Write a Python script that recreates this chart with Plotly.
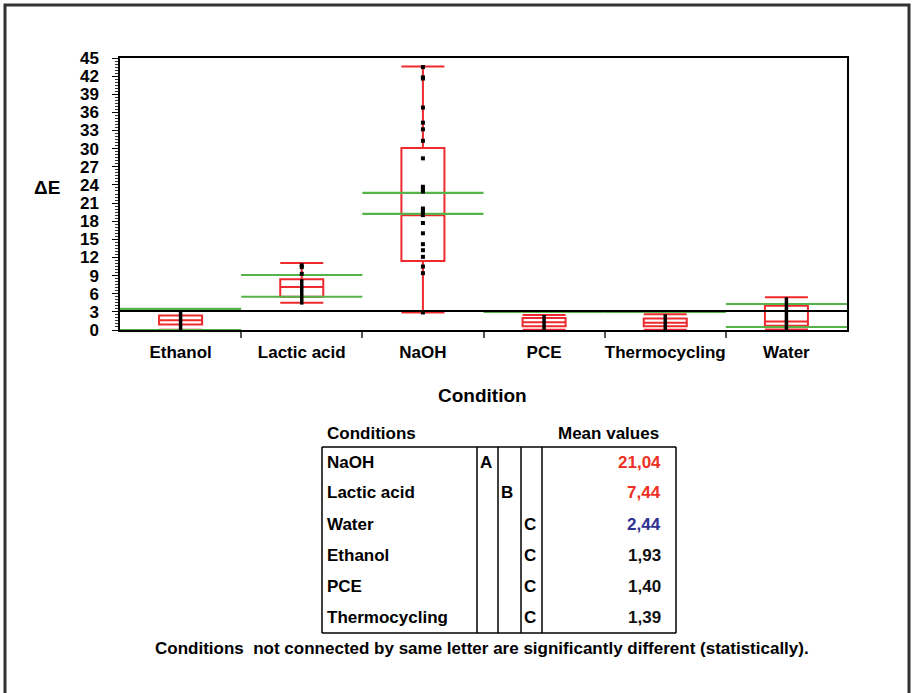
import plotly.graph_objects as go

# ---------------- data ----------------
categories = ["Ethanol", "Lactic acid", "NaOH", "PCE", "Thermocycling", "Water"]
box_min = [0.05, 4.5, 2.9, 0.05, 0.05, 0.1]
box_q1 = [0.9, 5.5, 11.4, 0.6, 0.6, 0.7]
box_median = [1.6, 7.1, 19.0, 1.3, 1.2, 1.4]
box_q3 = [2.4, 8.4, 30.1, 2.0, 1.9, 4.0]
box_max = [3.2, 11.1, 43.6, 2.5, 2.6, 5.4]
ci_low = [0.0, 5.5, 19.2, -0.5, -0.5, 0.5]
ci_high = [3.5, 9.1, 22.7, 3.0, 3.0, 4.3]
grand_line = 3.15
dense_low = [0.0, 4.2, None, 0.0, 0.0, 0.0]
dense_high = [3.3, 8.4, None, 2.5, 2.6, 5.4]
lactic_points = [9.3, 10.4, 10.7]
naoh_points = [43.5, 41.8, 41.6, 36.8, 34.3, 33.2, 31.3, 28.4, 23.7, 23.3, 22.9,
               20.1, 19.8, 19.4, 19.0, 17.7, 16.0, 14.2, 13.2, 12.1, 10.5, 9.4, 2.9]
y_ticks = list(range(0, 46, 3))

table_conditions = ["NaOH", "Lactic acid", "Water", "Ethanol", "PCE", "Thermocycling"]
table_letters = ["A", "B", "C", "C", "C", "C"]
table_means = ["21,04", "7,44", "2,44", "1,93", "1,40", "1,39"]
table_colors = ["#ee3124", "#ee3124", "#2e3192", "#111111", "#111111", "#111111"]

RED = "#ee2a2f"
GREEN = "#55b34a"
FONT = "Liberation Sans, Arial, sans-serif"

# ---------------- geometry helpers (page pixel -> paper) ----------------
FIG_W, FIG_H = 914, 693
L, R, T, B = 120, 847, 58, 330        # plot area in page pixels
W, H = R - L, B - T
def px(xp):
    return (xp - L) / W
def py(yp):
    return (B - yp) / H

centers = [i + 0.5 for i in range(len(categories))]

fig = go.Figure()

# green comparison lines (span each category)
gx, gy = [], []
for i in range(len(categories)):
    for v in (ci_low[i], ci_high[i]):
        gx += [i, i + 1, None]
        gy += [v, v, None]
fig.add_trace(go.Scatter(x=gx, y=gy, mode="lines", line=dict(color=GREEN, width=2.2),
                         hoverinfo="skip", showlegend=False))

# grand line
fig.add_trace(go.Scatter(x=[0, 6], y=[grand_line, grand_line], mode="lines",
                         line=dict(color="black", width=2), showlegend=False))

# boxes
fig.add_trace(go.Box(x=centers, q1=box_q1, median=box_median, q3=box_q3,
                     lowerfence=box_min, upperfence=box_max, width=0.355,
                     whiskerwidth=1, line=dict(color=RED, width=2),
                     fillcolor="rgba(0,0,0,0)", boxpoints=False, showlegend=False))

# dense points as vertical strokes
dx, dy = [], []
for i in range(len(categories)):
    if dense_low[i] is not None:
        dx += [centers[i], centers[i], None]
        dy += [dense_low[i], dense_high[i], None]
fig.add_trace(go.Scatter(x=dx, y=dy, mode="lines", line=dict(color="black", width=3.5),
                         showlegend=False, cliponaxis=False))
fig.add_trace(go.Scatter(x=[centers[1]] * len(lactic_points), y=lactic_points, mode="markers",
                         marker=dict(symbol="square", size=4, color="black"), showlegend=False))
fig.add_trace(go.Scatter(x=[centers[2]] * len(naoh_points), y=naoh_points, mode="markers",
                         marker=dict(symbol="square", size=4, color="black"), showlegend=False))

shapes = []
annotations = []

def ann(text, x, y, size=17, color="black", xanchor="center"):
    annotations.append(dict(text=text, xref="paper", yref="paper", x=px(x), y=py(y),
                            xanchor=xanchor, yanchor="middle", showarrow=False,
                            font=dict(size=size, color=color, family=FONT)))

# outer frame
shapes.append(dict(type="rect", xref="paper", yref="paper", x0=px(5), x1=px(909),
                   y0=py(705), y1=py(5), line=dict(color="#333333", width=3)))

# y title and x title
ann("<b>ΔE</b>", 47, 187, size=19)
ann("<b>Condition</b>", 482, 395, size=19)

# table
tl, tr, tt, tb = 322, 676, 447, 633
for xv in (tl, 477, 498, 521, 542, tr):
    shapes.append(dict(type="line", xref="paper", yref="paper", x0=px(xv), x1=px(xv),
                       y0=py(tt), y1=py(tb), line=dict(color="black", width=1.5)))
for yv in (tt, tb):
    shapes.append(dict(type="line", xref="paper", yref="paper", x0=px(tl), x1=px(tr),
                       y0=py(yv), y1=py(yv), line=dict(color="black", width=1.5)))

ann("<b>Conditions</b>", 325, 433, xanchor="left")
ann("<b>Mean values</b>", 661, 433, xanchor="right")
letter_x = {"A": 486, "B": 507, "C": 530}
for k, (c, lt, m, col) in enumerate(zip(table_conditions, table_letters, table_means, table_colors)):
    yc = 462 + k * 31
    ann("<b>" + c + "</b>", 325, yc, xanchor="left")
    ann("<b>" + lt + "</b>", letter_x[lt], yc)
    ann("<b>" + m + "</b>", 663, yc, color=col, xanchor="right")

ann("<b>Conditions  not connected by same letter are significantly different (statistically).</b>",
    482, 648)

fig.update_layout(
    width=FIG_W, height=FIG_H,
    margin=dict(l=L, r=FIG_W - R, t=T, b=FIG_H - B),
    paper_bgcolor="white", plot_bgcolor="white",
    font=dict(family=FONT, size=17, color="black"),
    shapes=shapes, annotations=annotations, showlegend=False,
    xaxis=dict(range=[0, 6], tickmode="array", tickvals=centers,
               ticktext=["<b>" + c + "</b>" for c in categories],
               ticks="outside", ticklen=6, tickcolor="rgba(0,0,0,0)",
               showline=True, linecolor="black", linewidth=1.5, mirror=True,
               showgrid=False, zeroline=False, fixedrange=True,
               tickfont=dict(size=17, family=FONT, color="black"),
               minor=dict(tickmode="array", tickvals=[1, 2, 3, 4, 5], ticks="outside",
                          ticklen=6, tickwidth=1.5, tickcolor="#555555", showgrid=False)),
    yaxis=dict(range=[0, 45], tickmode="array", tickvals=y_ticks,
               ticktext=["<b>%d</b>" % v for v in y_ticks],
               ticks="outside", ticklen=6, tickwidth=1.2, tickcolor="black",
               ticklabelstandoff=10,
               showline=True, linecolor="black", linewidth=1.5, mirror=True,
               showgrid=False, zeroline=False, fixedrange=True,
               tickfont=dict(size=17, family=FONT, color="black"),
               minor=dict(dtick=0.5, tick0=0, ticks="outside", ticklen=3,
                          tickwidth=1, tickcolor="#333333", showgrid=False)),
)

fig.write_html("out.html", post_script="document.body.style.margin='0';",
               config={"displayModeBar": False})
